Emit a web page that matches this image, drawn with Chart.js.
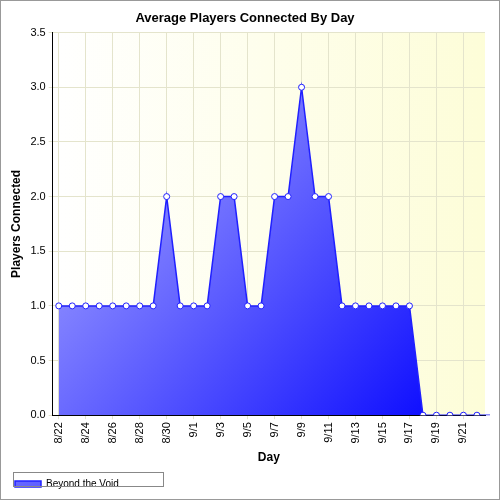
<!DOCTYPE html>
<html><head><script src="https://cdn.jsdelivr.net/npm/chart.js@4"></script>
<style>body{margin:0;background:#fff}#w{width:498px;height:498px;border:1px solid #999;position:relative}</style></head>
<body><div id="w"><canvas id="c" width="498" height="498"></canvas></div>
<script>
const days=["8/22","8/23","8/24","8/25","8/26","8/27","8/28","8/29","8/30","8/31","9/1","9/2","9/3","9/4","9/5","9/6","9/7","9/8","9/9","9/10","9/11","9/12","9/13","9/14","9/15","9/16","9/17","9/18","9/19","9/20","9/21","9/22","9/23"];
const players=[1,1,1,1,1,1,1,1,2,1,1,1,2,2,1,1,2,2,3,2,2,1,1,1,1,1,1,0,0,0,0,0,0];
const yTicks=["0.0","0.5","1.0","1.5","2.0","2.5","3.0","3.5"];
const bg={id:'bg',beforeDraw(c){const a=c.chartArea,x=c.ctx;const g=x.createLinearGradient(a.left,0,a.right,0);g.addColorStop(0,'#ffffff');g.addColorStop(1,'#fdfdd8');x.save();x.fillStyle=g;x.fillRect(a.left,a.top,a.right-a.left,a.bottom-a.top);x.restore();},
afterDraw(c){const l=c.legend,x=c.ctx;if(!l)return;x.save();x.strokeStyle='#888';x.lineWidth=1;x.strokeRect(l.left+8.5,l.top+3.5,150,14);x.restore();}};
new Chart(document.getElementById('c'),{type:'line',
data:{datasets:[{label:'Beyond the Void',data:players.map((v,i)=>({x:i,y:v})),borderColor:'#2020ff',borderWidth:1.5,
backgroundColor:(ctx)=>{const a=ctx.chart.chartArea;if(!a)return'#66f';const g=ctx.chart.ctx.createLinearGradient(a.left,a.top,a.right,a.bottom);g.addColorStop(0,'#c0c0ff');g.addColorStop(1,'#0000ff');return g;},
fill:'origin',pointRadius:3,pointBackgroundColor:'#fff',pointBorderColor:'#2020ff',pointBorderWidth:1,tension:0}]},
options:{responsive:false,animation:false,layout:{padding:{left:4,right:14,top:0,bottom:0}},
plugins:{title:{display:true,text:'Average Players Connected By Day',font:{family:'Arial, Liberation Sans',size:13,weight:'bold'},color:'#000',padding:{top:10,bottom:6}},
legend:{position:'bottom',align:'start',labels:{boxWidth:26,boxHeight:6,font:{family:'Liberation Sans',size:10},color:'#000'}},tooltip:{enabled:false}},
scales:{x:{type:'linear',bounds:'data',afterDataLimits:(s)=>{s.min=-0.45;s.max=31.6;},grid:{color:'#e4e4cc',tickLength:4},border:{color:'#000'},
afterBuildTicks:(s)=>{s.ticks=[];for(let i=0;i<days.length-1;i+=2)s.ticks.push({value:i});},
ticks:{callback:(v)=>days[v],maxRotation:90,minRotation:90,autoSkip:false,font:{family:'Liberation Sans',size:11},color:'#000'},
title:{display:true,text:'Day',font:{family:'Liberation Sans',size:12,weight:'bold'},color:'#000'}},
y:{min:0,max:3.5,grid:{color:'#e4e4cc',tickLength:4},border:{color:'#000'},
ticks:{stepSize:0.5,callback:(v,i)=>yTicks[i],font:{family:'Liberation Sans',size:11},color:'#000'},
title:{display:true,text:'Players Connected',font:{family:'Liberation Sans',size:12,weight:'bold'},color:'#000'}}}},
plugins:[bg]});
</script></body></html>
